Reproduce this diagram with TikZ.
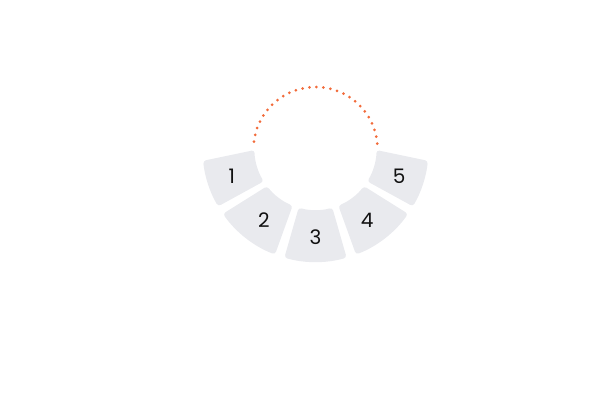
\documentclass[tikz,border=0pt]{standalone}
\usepackage{fontspec}
\setmainfont{Poppins}
\usepackage{xcolor}
\usepackage{tikz}
\usetikzlibrary{calc}

\definecolor{segfill}{HTML}{E9EAEE}
\definecolor{ringdot}{HTML}{F26B3A}
\definecolor{digit}{HTML}{111111}

\begin{document}
\begin{tikzpicture}[x=1pt,y=1pt,
    sector/.style={fill=segfill,rounded corners=3pt},
    dotring/.style={draw=ringdot,line width=3pt,line cap=round,dash pattern=on 0pt off 7pt},
    seglabel/.style={text=digit,inner sep=0pt,font=\fontsize{20}{24}\selectfont}]
\useasboundingbox (0,0) rectangle (600,400);
% Centre of the ring
\coordinate (C) at (315.5,251);

% Dotted arc on top
\draw[dotring] ($(C)+(5:62pt)$) arc[start angle=5,end angle=175,radius=62pt];

% Sectors (inner start/end, outer start/end) and numbers
\foreach \ia/\ib/\oa/\ob [count=\i] in {181/212/186/210.5,217.5/248/215/249,254/286/254/286,292/322.5/291/325,328/359/329.5/354}
{
    \fill[sector] ($(C)+(\ia:61pt)$) arc[start angle=\ia,end angle=\ib,radius=61pt]
        -- ($(C)+(\ob:113pt)$) arc[start angle=\ob,end angle=\oa,radius=113pt] -- cycle;
    \node[seglabel] (s\i) at ($(C)+(162+36*\i:88pt)$) {\i};
}
\end{tikzpicture}
\end{document}
